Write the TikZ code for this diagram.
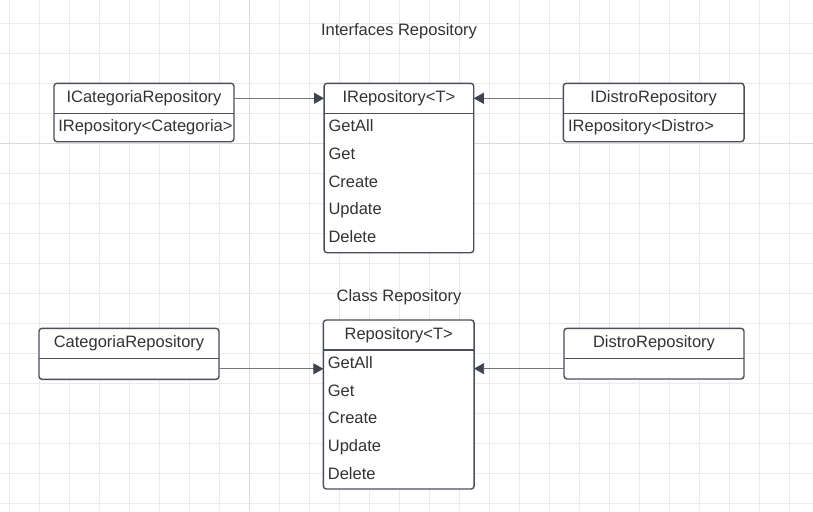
\documentclass[tikz,border=0pt]{standalone}
\usepackage{fontspec}
\setmainfont{Liberation Sans}
\usetikzlibrary{positioning,arrows.meta}

\definecolor{gridminor}{HTML}{EBEBEB}
\definecolor{gridmajor}{HTML}{D9D9D9}
\definecolor{boxline}{HTML}{4B4F58}
\definecolor{textcol}{HTML}{333333}
\definecolor{wire}{HTML}{73777E}
\definecolor{tipcol}{HTML}{3E4350}

\begin{document}
\begin{tikzpicture}[x=1pt, y=-1pt,
		every node/.style={font=\fontsize{16.5}{20}\selectfont, text=textcol},
		classbox/.style={draw=boxline, line width=1.4pt, rounded corners=3pt, fill=white, inner sep=0pt, outer sep=0pt},
		classhead/.style={inner sep=0pt, outer sep=0pt, minimum height=30pt, text height=13pt, text depth=4pt},
		member/.style={inner sep=0pt, outer sep=0pt, anchor=north west, minimum height=27.75pt, text height=13pt, text depth=4pt},
		divider/.style={draw=boxline, line width=1.4pt},
		realize/.style={draw=wire, line width=0.8pt, -{Triangle[length=10pt, width=11pt, color=tipcol]}}]

		\useasboundingbox[fill=white] (0,0) rectangle (813,511);

		% Draw the grid
		\foreach \gx in {0,...,26} \draw[gridminor, line width=0.9pt] (9.3+30*\gx,0) -- (9.3+30*\gx,511);
		\foreach \gy in {0,...,16} \draw[gridminor, line width=0.9pt] (0,23.3+30*\gy) -- (813,23.3+30*\gy);
		\draw[gridmajor, line width=1.1pt] (249.3,0) -- (249.3,511);
		\draw[gridmajor, line width=1.1pt] (0,143.3) -- (813,143.3);

		% Section titles
		\node (ititle) at (399,31) {Interfaces Repository};
		\node (ctitle) at (399,297.5) {Class Repository};

		% Interface IRepository<T>
		\node[classbox, minimum width=149.7pt, minimum height=169.4pt] (irepo) at (398.9,168) {};
		\node[classhead, minimum width=149.7pt, below=0pt of irepo.north] (irepo-h) {IRepository<T>};
		\draw[divider] (irepo-h.south west) -- (irepo-h.south east);
		\node[member] (irepo-getall) at ([xshift=4.5pt]irepo-h.south west) {GetAll};
		\node[member] (irepo-get) at (irepo-getall.south west) {Get};
		\node[member] (irepo-create) at (irepo-get.south west) {Create};
		\node[member] (irepo-update) at (irepo-create.south west) {Update};
		\node[member] (irepo-delete) at (irepo-update.south west) {Delete};

		% Interface ICategoriaRepository
		\node[classbox, minimum width=180pt, minimum height=58.4pt] (icat) at (144,112.5) {};
		\node[classhead, minimum width=180pt, below=0pt of icat.north] (icat-h) {ICategoriaRepository};
		\draw[divider] (icat-h.south west) -- (icat-h.south east);
		\node[member] (icat-m) at ([xshift=4.3pt]icat-h.south west) {IRepository<Categoria>};

		% Interface IDistroRepository
		\node[classbox, minimum width=180.7pt, minimum height=58.4pt] (idistro) at (653.7,112.5) {};
		\node[classhead, minimum width=180.7pt, below=0pt of idistro.north] (idistro-h) {IDistroRepository};
		\draw[divider] (idistro-h.south west) -- (idistro-h.south east);
		\node[member] (idistro-m) at ([xshift=4.8pt]idistro-h.south west) {IRepository<Distro>};

		% Class Repository<T>
		\node[classbox, minimum width=150.7pt, minimum height=169pt] (repo) at (398.7,404.5) {};
		\node[classhead, minimum width=150.7pt, below=0pt of repo.north] (repo-h) {Repository<T>};
		\draw[divider] (repo-h.south west) -- (repo-h.south east);
		\node[member] (repo-getall) at ([xshift=4.5pt]repo-h.south west) {GetAll};
		\node[member] (repo-get) at (repo-getall.south west) {Get};
		\node[member] (repo-create) at (repo-get.south west) {Create};
		\node[member] (repo-update) at (repo-create.south west) {Update};
		\node[member] (repo-delete) at (repo-update.south west) {Delete};

		% Class CategoriaRepository
		\node[classbox, minimum width=180pt, minimum height=51pt] (cat) at (129,353.8) {};
		\node[classhead, minimum width=180pt, below=0pt of cat.north] (cat-h) {CategoriaRepository};
		\draw[divider] (cat-h.south west) -- (cat-h.south east);
		\node[inner sep=0pt, outer sep=0pt, minimum width=180pt, minimum height=21pt, below=0pt of cat-h] (cat-b) {};

		% Class DistroRepository
		\node[classbox, minimum width=180pt, minimum height=50.7pt] (distro) at (654,353.65) {};
		\node[classhead, minimum width=180pt, below=0pt of distro.north] (distro-h) {DistroRepository};
		\draw[divider] (distro-h.south west) -- (distro-h.south east);
		\node[inner sep=0pt, outer sep=0pt, minimum width=180pt, minimum height=20.7pt, below=0pt of distro-h] (distro-b) {};

		% Draw the realization arrows
		\draw[realize] (icat-h.east) -- (irepo-h.west);
		\draw[realize] (idistro-h.west) -- (irepo-h.east);
		\draw[realize] (cat-b.east) -- (cat-b.east -| repo.west);
		\draw[realize] (distro-b.west) -- (distro-b.west -| repo.east);

	\end{tikzpicture}
\end{document}
